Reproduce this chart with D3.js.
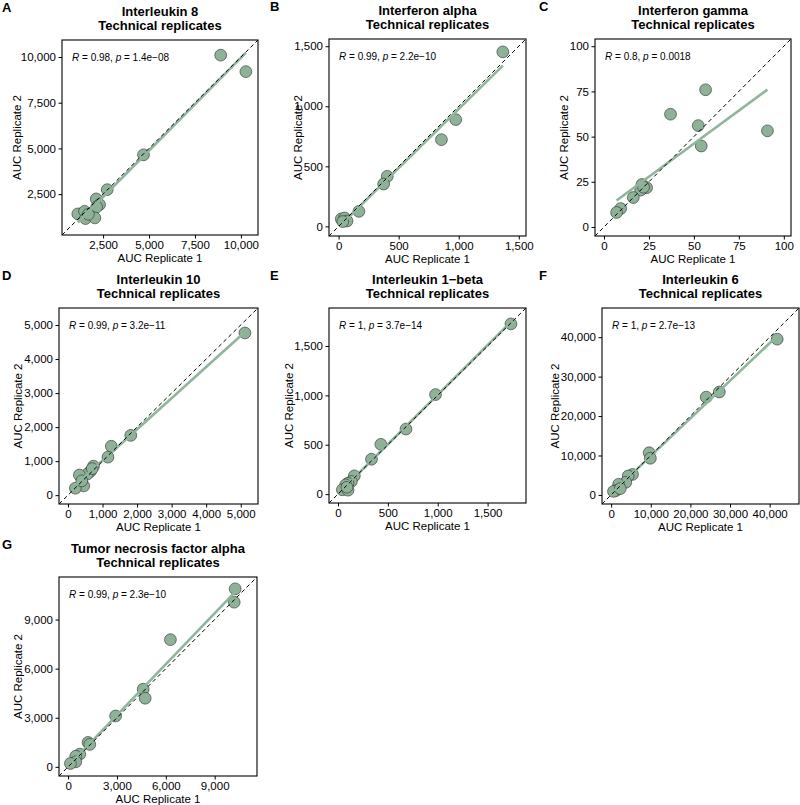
<!DOCTYPE html>
<html><head><meta charset="utf-8">
<script src="https://cdn.jsdelivr.net/npm/d3@7"></script>
<style>
body{margin:0;background:#fff;}
text{font-family:"Liberation Sans",Arial,Helvetica,sans-serif;fill:#000;}
</style>
</head><body><svg id="chart" width="800" height="805"></svg>
<script>
// ---------- data ----------
const panelLetters = ["A","B","C","D","E","F","G"];
const panelTitles = ["Interleukin 8","Interferon alpha","Interferon gamma","Interleukin 10","Interleukin 1\u2212beta","Interleukin 6","Tumor necrosis factor alpha"];
const subtitle = "Technical replicates";
const xTitle = "AUC Replicate 1";
const yTitle = "AUC Replicate 2";
const rValues = ["0.98","0.99","0.8","0.99","1","1","0.99"];
const pValues = ["1.4e\u221208","2.2e\u221210","0.0018","3.2e\u221211","3.7e\u221214","2.7e\u221213","2.3e\u221210"];

const il8Rep1 = [8900,10270,4700,2727,2128,2309,2150,1125,1491,1545,2052,1700];
const il8Rep2 = [10100,9200,4650,2745,2238,1927,1800,1419,1561,1163,1201,1400];
const ifnaRep1 = [1367,975,856,405,375,169,42,22,58,50,70,35];
const ifnaRep2 = [1453,889,722,417,353,125,50,62,56,70,45,40];
const ifngRep1 = [56.5,37,52.4,90.9,54.1,23.7,21.1,20.4,16.3,9.3,7,22];
const ifngRep2 = [75.9,62.4,56.1,53.2,44.8,21.7,23.5,20.4,16.3,10.2,8,22];
const il10Rep1 = [5122,1818,1254,1157,739,650,560,330,457,214,400,700];
const il10Rep2 = [4767,1757,1437,1117,854,700,620,592,272,204,420,780];
const il1bRep1 = [1734,978,682,430,336,164,134,100,77,44,101,90];
const il1bRep2 = [1724,1008,659,504,353,185,128,110,94,44,40,70];
const il6Rep1 = [41900,27300,24000,9600,9900,5400,4300,3700,1900,1200,600,2300];
const il6Rep2 = [39500,26100,24800,10700,9300,5200,4800,3200,2700,1100,900,1600];
const tnfRep1 = [10261,10200,6283,4610,4733,2917,1224,1330,714,469,469,143];
const tnfRep2 = [10879,10061,7771,4744,4192,3108,1493,1370,777,650,307,204];

const axisTicks = [
  [2500,5000,7500,10000],
  [0,500,1000,1500],
  [0,25,50,75,100],
  [0,1000,2000,3000,4000,5000],
  [0,500,1000,1500],
  [0,10000,20000,30000,40000],
  [0,3000,6000,9000]
];
const axisLimits = [[265,10930],[-80,1560],[-5,104],[-260,5500],[-90,1885],[-2300,47400],[-560,11600]];

const rep1 = [il8Rep1, ifnaRep1, ifngRep1, il10Rep1, il1bRep1, il6Rep1, tnfRep1];
const rep2 = [il8Rep2, ifnaRep2, ifngRep2, il10Rep2, il1bRep2, il6Rep2, tnfRep2];

// ---------- layout (plot box: left, top, right, bottom; y title offset; letter x) ----------
const layout = [
  {l:62, t:40, r:258, b:235, yt:-45, lx:2},
  {l:329,t:39, r:526, b:236, yt:-31, lx:270},
  {l:595,t:39, r:791, b:236, yt:-31, lx:539},
  {l:59, t:308,r:258, b:504, yt:-41, lx:2},
  {l:329,t:308,r:526, b:503, yt:-40, lx:270},
  {l:602,t:308,r:799, b:504, yt:-47, lx:539},
  {l:59, t:577,r:257, b:776, yt:-41, lx:2}
];

const pointFill = "#8db298";
const lineColor = "#8fb59c";
const svg = d3.select("#chart");
const fmt = d3.format(",");

panelTitles.forEach((title, i) => {
  const L = layout[i];
  const x = d3.scaleLinear().domain(axisLimits[i]).range([L.l, L.r]);
  const y = d3.scaleLinear().domain(axisLimits[i]).range([L.b, L.t]);
  const g = svg.append("g");
  const cx = (L.l + L.r) / 2;

  g.append("text").attr("x", L.lx).attr("y", L.t - 28)
    .attr("font-size", 13).attr("font-weight", "bold").text(panelLetters[i]);
  g.append("text").attr("x", cx).attr("y", L.t - 24).attr("text-anchor", "middle")
    .attr("font-size", 13).attr("font-weight", "bold").text(title);
  g.append("text").attr("x", cx).attr("y", L.t - 10).attr("text-anchor", "middle")
    .attr("font-size", 13).attr("font-weight", "bold").text(subtitle);

  const clipId = "clip" + i;
  svg.append("clipPath").attr("id", clipId).append("rect")
    .attr("x", L.l).attr("y", L.t).attr("width", L.r - L.l).attr("height", L.b - L.t);
  const plot = g.append("g").attr("clip-path", `url(#${clipId})`);

  const pts = rep1[i].map((v, k) => [v, rep2[i][k]]);

  plot.selectAll("circle").data(pts).join("circle")
    .attr("cx", d => x(d[0])).attr("cy", d => y(d[1])).attr("r", 5.9)
    .attr("fill", pointFill).attr("stroke", "#2b2b2b").attr("stroke-width", 0.6);

  const mx = d3.mean(pts, d => d[0]), my = d3.mean(pts, d => d[1]);
  const sxy = d3.sum(pts, d => (d[0] - mx) * (d[1] - my));
  const sxx = d3.sum(pts, d => (d[0] - mx) ** 2);
  const slope = sxy / sxx, icpt = my - slope * mx;
  const xr = d3.extent(pts, d => d[0]);
  plot.append("line")
    .attr("x1", x(xr[0])).attr("y1", y(icpt + slope * xr[0]))
    .attr("x2", x(xr[1])).attr("y2", y(icpt + slope * xr[1]))
    .attr("stroke", lineColor).attr("stroke-width", 2.6);

  const dom = axisLimits[i];
  plot.append("line")
    .attr("x1", x(dom[0])).attr("y1", y(dom[0]))
    .attr("x2", x(dom[1])).attr("y2", y(dom[1]))
    .attr("stroke", "#000").attr("stroke-width", 1).attr("stroke-dasharray", "4,3");

  g.append("rect").attr("x", L.l).attr("y", L.t).attr("width", L.r - L.l).attr("height", L.b - L.t)
    .attr("fill", "none").attr("stroke", "#000").attr("stroke-width", 1.1);

  const xa = g.append("g").attr("transform", `translate(0,${L.b})`)
    .call(d3.axisBottom(x).tickValues(axisTicks[i]).tickFormat(fmt).tickSize(3.5).tickPadding(2.5));
  const ya = g.append("g").attr("transform", `translate(${L.l},0)`)
    .call(d3.axisLeft(y).tickValues(axisTicks[i]).tickFormat(fmt).tickSize(3.5).tickPadding(2.5));
  [xa, ya].forEach(a => {
    a.select(".domain").remove();
    a.selectAll(".tick line").attr("stroke", "#000").attr("stroke-width", 1);
    a.selectAll(".tick text").attr("font-size", 11.5).attr("fill", "#000")
      .style("font-family", '"Liberation Sans",Arial,Helvetica,sans-serif');
  });

  g.append("text").attr("x", cx).attr("y", L.b + 27).attr("text-anchor", "middle")
    .attr("font-size", 11.5).text(xTitle);
  g.append("text").attr("transform", `translate(${L.l + L.yt},${(L.t + L.b) / 2}) rotate(-90)`)
    .attr("text-anchor", "middle").attr("dominant-baseline", "central")
    .attr("font-size", 11.5).text(yTitle);

  const lab = g.append("text").attr("x", L.l + 10).attr("y", L.t + 17)
    .attr("dominant-baseline", "central").attr("font-size", 10);
  lab.append("tspan").attr("font-style", "italic").text("R");
  lab.append("tspan").text(" = " + rValues[i] + ", ");
  lab.append("tspan").attr("font-style", "italic").text("p");
  lab.append("tspan").text(" = " + pValues[i]);
});
</script>
</body></html>
